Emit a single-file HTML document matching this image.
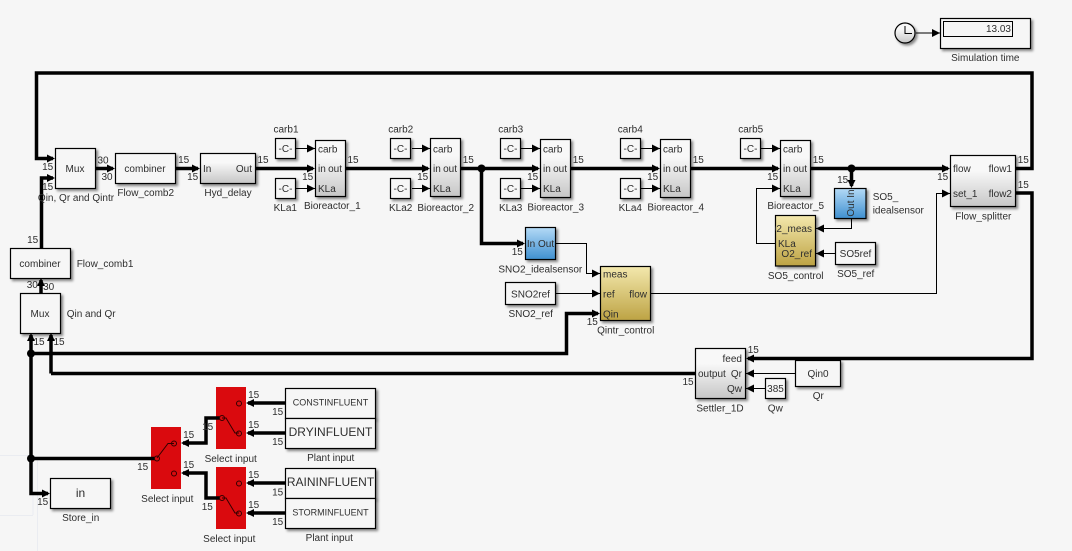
<!DOCTYPE html>
<html><head><meta charset="utf-8"><style>
html,body{margin:0;padding:0;background:#f6f6f6}
svg{display:block}
text{font-family:"Liberation Sans",sans-serif;font-size:10px;fill:#2e2e2e}
.m{text-anchor:middle}
.e{text-anchor:end}
.t{fill:none;stroke:#000;stroke-width:3.5}
.f{fill:none;stroke:#000;stroke-width:1}
.s{fill:#f6f6f6;stroke:#000;stroke-width:1.2;filter:url(#sh)}
</style></head><body>
<svg width="1072" height="551" viewBox="0 0 1072 551" xmlns="http://www.w3.org/2000/svg">
<defs>
<filter id="sh" x="-20%" y="-20%" width="150%" height="150%"><feDropShadow dx="2" dy="2" stdDeviation="1.2" flood-color="#000" flood-opacity=".45"/></filter>
<linearGradient id="gy" x1="0" y1="0" x2="0" y2="1"><stop offset="0.3" stop-color="#f8f8f8"/><stop offset="1" stop-color="#c6c6c6"/></linearGradient>
<linearGradient id="bl" x1="0" y1="0" x2="0" y2="1"><stop offset="0" stop-color="#b4daf6"/><stop offset="1" stop-color="#3f90d0"/></linearGradient>
<linearGradient id="gd" x1="0" y1="0" x2="0" y2="1"><stop offset="0" stop-color="#f3e8ad"/><stop offset="1" stop-color="#bda344"/></linearGradient>
<marker id="at" markerUnits="userSpaceOnUse" markerWidth="10" markerHeight="10" refX="6" refY="4" orient="auto"><path d="M0,0L8,4L0,8z"/></marker>
<marker id="af" markerUnits="userSpaceOnUse" markerWidth="10" markerHeight="10" refX="8" refY="4" orient="auto"><path d="M0,0L8,4L0,8z"/></marker>
<clipPath id="c1"><rect x="775" y="215" width="42" height="30"/></clipPath>
</defs>
<rect width="1072" height="551" fill="#f6f6f6"/>
<path d="M0,455.5H30M33,455.5V515M0,515.5H33M37.5,460V551" fill="none" stroke="#eaecf1" stroke-width="1"/>

<!-- switch bodies -->
<rect x="151" y="427" width="30" height="62" fill="#da0a0e"/>
<rect x="216" y="387" width="30" height="62" fill="#da0a0e"/>
<rect x="216" y="467" width="30" height="62" fill="#da0a0e"/>

<!-- thick wires -->
<g class="t">
<path d="M1016,168.5H1032V73H36.5V158.5H53" marker-end="url(#at)"/>
<path d="M41.5,248V178H53" marker-end="url(#at)"/>
<path d="M41,293V280" marker-end="url(#at)"/>
<path d="M96,168.5H113" marker-end="url(#at)"/>
<path d="M176,168.5H198" marker-end="url(#at)"/>
<path d="M256,168.5H313" marker-end="url(#at)"/>
<path d="M346,168.5H428" marker-end="url(#at)"/>
<path d="M461,168.5H538" marker-end="url(#at)"/>
<path d="M571,168.5H658" marker-end="url(#at)"/>
<path d="M691,168.5H778" marker-end="url(#at)"/>
<path d="M811,168.5H948" marker-end="url(#at)"/>
<path d="M481.5,168.5V243.5H523" marker-end="url(#at)"/>
<path d="M851.5,168.5V186" marker-end="url(#at)"/>
<path d="M1016,193H1032V358.5H748" marker-end="url(#at)"/>
<path d="M31,458V335" marker-end="url(#at)"/>
<path d="M51,373.5V335" marker-end="url(#at)"/>
<path d="M51,373.5H695"/>
<path d="M31,353.5H566.5V313.5H598" marker-end="url(#at)"/>
<path d="M31,458V493.5H48" marker-end="url(#at)"/>
<path d="M31,458.5H155"/>
<path d="M220,418H206V443H183" marker-end="url(#at)"/>
<path d="M220,498H206V473H183" marker-end="url(#at)"/>
<path d="M286,403H248" marker-end="url(#at)"/>
<path d="M286,433H248" marker-end="url(#at)"/>
<path d="M286,483H248" marker-end="url(#at)"/>
<path d="M286,513H248" marker-end="url(#at)"/>
</g>
<circle cx="481.5" cy="168.5" r="4"/><circle cx="851.5" cy="168.5" r="4"/><circle cx="31" cy="353.5" r="4"/><circle cx="31" cy="458.5" r="4"/>

<!-- switch glyphs -->
<g fill="none" stroke="#300" stroke-width="1">
<path d="M157,458L168,443.5H174"/><circle cx="157" cy="458.5" r="2.5"/><circle cx="174" cy="443.5" r="2.5"/><circle cx="174" cy="473.5" r="2.5"/>
<path d="M222,418H226L235,433H239"/><circle cx="222" cy="418" r="2.5"/><circle cx="239" cy="403.5" r="2.5"/><circle cx="239" cy="433.5" r="2.5"/>
<path d="M222,498H226L235,513H239"/><circle cx="222" cy="498" r="2.5"/><circle cx="239" cy="483.5" r="2.5"/><circle cx="239" cy="513.5" r="2.5"/>
</g>

<!-- thin wires -->
<g class="f">
<path d="M916,33H940" marker-end="url(#af)"/>
<path d="M296,148.5H315" marker-end="url(#af)"/><path d="M296,188.5H315" marker-end="url(#af)"/>
<path d="M412,148.5H430" marker-end="url(#af)"/><path d="M412,188.5H430" marker-end="url(#af)"/>
<path d="M521,148.5H540" marker-end="url(#af)"/><path d="M521,188.5H540" marker-end="url(#af)"/>
<path d="M641,148.5H660" marker-end="url(#af)"/><path d="M641,188.5H660" marker-end="url(#af)"/>
<path d="M761,148.5H780" marker-end="url(#af)"/>
<path d="M775,243.5H756.5V188.5H780" marker-end="url(#af)"/>
<path d="M556,243.5H586.5V273.5H600" marker-end="url(#af)"/>
<path d="M556,293.5H600" marker-end="url(#af)"/>
<path d="M651,293.5H936.5V193.5H950" marker-end="url(#af)"/>
<path d="M851.5,219V228.5H816" marker-end="url(#af)"/>
<path d="M835,253.5H816" marker-end="url(#af)"/>
<path d="M796,373.5H746" marker-end="url(#af)"/>
<path d="M765,388.5H746" marker-end="url(#af)"/>
</g>

<!-- blocks -->
<g>
<circle cx="905" cy="33" r="10" fill="url(#gy)" stroke="#000" stroke-width="1.2" style="filter:url(#sh)"/>
<path d="M905,26V33.5H912" class="f"/>
<rect class="s" x="940.5" y="18.5" width="90" height="30"/>
<rect x="943.5" y="21.5" width="69" height="15" fill="none" stroke="#000"/>

<rect class="s" x="55.5" y="148.5" width="40" height="40"/>
<rect class="s" x="115.5" y="153.5" width="60" height="30"/>
<rect class="s" style="fill:url(#gy)" x="200.5" y="153.5" width="55" height="30"/>
<rect class="s" x="10.5" y="248.5" width="60" height="30"/>
<rect class="s" x="20.5" y="293.5" width="40" height="40"/>

<rect class="s" x="275.5" y="138.5" width="20" height="20"/><rect class="s" x="275.5" y="178.5" width="20" height="20"/>
<rect class="s" x="390.5" y="138.5" width="20" height="20"/><rect class="s" x="390.5" y="178.5" width="20" height="20"/>
<rect class="s" x="500.5" y="138.5" width="20" height="20"/><rect class="s" x="500.5" y="178.5" width="20" height="20"/>
<rect class="s" x="620.5" y="138.5" width="20" height="20"/><rect class="s" x="620.5" y="178.5" width="20" height="20"/>
<rect class="s" x="740.5" y="138.5" width="20" height="20"/>

<rect class="s" style="fill:url(#gy)" x="315.5" y="140.5" width="30" height="56"/>
<rect class="s" style="fill:url(#gy)" x="430.5" y="138.5" width="30" height="58"/>
<rect class="s" style="fill:url(#gy)" x="540.5" y="139.5" width="30" height="58"/>
<rect class="s" style="fill:url(#gy)" x="660.5" y="139.5" width="30" height="58"/>
<rect class="s" style="fill:url(#gy)" x="780.5" y="140.5" width="30" height="56"/>
<rect class="s" style="fill:url(#gy)" x="950.5" y="155.5" width="65" height="51"/>
<rect class="s" style="fill:url(#bl)" x="525.5" y="227.5" width="30" height="32"/>
<rect class="s" style="fill:url(#bl)" x="834.5" y="188.5" width="31.5" height="30"/>
<rect class="s" style="fill:url(#gd)" x="600.5" y="266.5" width="50" height="54"/>
<rect class="s" style="fill:url(#gd)" x="775.5" y="215.5" width="40" height="50.5"/>
<rect class="s" x="505.5" y="282.5" width="50" height="22"/>
<rect class="s" x="835.5" y="242.5" width="40" height="22"/>
<rect class="s" style="fill:url(#gy)" x="695.5" y="348.5" width="50" height="50"/>
<rect class="s" x="795.5" y="360.5" width="45" height="26"/>
<rect class="s" x="765.5" y="378.5" width="20" height="20"/>
<rect class="s" x="50.5" y="478.5" width="60" height="30"/>
<rect class="s" x="285.5" y="388.5" width="90" height="30"/>
<rect class="s" x="285.5" y="418.5" width="90" height="30"/>
<rect class="s" x="285.5" y="468.5" width="90" height="30"/>
<rect class="s" x="285.5" y="498.5" width="90" height="30"/>
</g>

<!-- block text -->
<text x="1011" y="32" class="e">13.03</text>
<text x="75" y="172" class="m">Mux</text>
<text x="145" y="172" class="m">combiner</text>
<text x="40" y="267" class="m">combiner</text>
<text x="40" y="317" class="m">Mux</text>
<text x="203" y="172">In</text><text x="252" y="172" class="e">Out</text>
<text x="285.5" y="152" class="m">-C-</text><text x="285.5" y="192" class="m">-C-</text>
<text x="400.5" y="152" class="m">-C-</text><text x="400.5" y="192" class="m">-C-</text>
<text x="510.5" y="152" class="m">-C-</text><text x="510.5" y="192" class="m">-C-</text>
<text x="630.5" y="152" class="m">-C-</text><text x="630.5" y="192" class="m">-C-</text>
<text x="750.5" y="152" class="m">-C-</text>

<text x="318" y="152.5">carb</text><text x="318" y="172">in</text><text x="342" y="172" class="e">out</text><text x="318" y="192">KLa</text>
<text x="433" y="152.5">carb</text><text x="433" y="172">in</text><text x="457" y="172" class="e">out</text><text x="433" y="192">KLa</text>
<text x="543" y="152.5">carb</text><text x="543" y="172">in</text><text x="567" y="172" class="e">out</text><text x="543" y="192">KLa</text>
<text x="663" y="152.5">carb</text><text x="663" y="172">in</text><text x="687" y="172" class="e">out</text><text x="663" y="192">KLa</text>
<text x="783" y="152.5">carb</text><text x="783" y="172">in</text><text x="807" y="172" class="e">out</text><text x="783" y="192">KLa</text>

<text x="540.5" y="247" class="m">In Out</text>
<text transform="translate(854,203) rotate(-90)" class="m">Out In</text>
<text x="603" y="277.5">meas</text><text x="603" y="297.5">ref</text><text x="603" y="317.5">Qin</text><text x="647" y="297.5" class="e">flow</text>
<g clip-path="url(#c1)"><text x="812" y="232" class="e">O2_meas</text></g><text x="778" y="247">KLa</text><text x="812" y="257" class="e">O2_ref</text>
<text x="953" y="172">flow</text><text x="1012" y="172" class="e">flow1</text><text x="953" y="197">set_1</text><text x="1012" y="197" class="e">flow2</text>
<text x="742" y="362" class="e">feed</text><text x="742" y="377" class="e">Qr</text><text x="742" y="392" class="e">Qw</text><text x="698" y="377">output</text>
<text x="818" y="377" class="m">Qin0</text><text x="775.5" y="392" class="m">385</text>
<text x="855.5" y="257" class="m">SO5ref</text><text x="530.5" y="297.5" class="m">SNO2ref</text>
<text x="80.5" y="497" class="m" style="font-size:12px">in</text>
<text x="330.5" y="405.5" class="m" style="font-size:9px">CONSTINFLUENT</text>
<text x="330.5" y="436" class="m" style="font-size:12px">DRYINFLUENT</text>
<text x="330.5" y="486" class="m" style="font-size:12px">RAININFLUENT</text>
<text x="330.5" y="515.5" class="m" style="font-size:9px">STORMINFLUENT</text>

<!-- captions -->
<text x="76" y="201" class="m">Qin, Qr and Qintr</text>
<text x="145.7" y="196" class="m">Flow_comb2</text>
<text x="228" y="196" class="m">Hyd_delay</text>
<text x="332.3" y="209" class="m">Bioreactor_1</text>
<text x="285.3" y="211" class="m">KLa1</text><text x="286" y="132.5" class="m">carb1</text>
<text x="76.7" y="267">Flow_comb1</text>
<text x="66.7" y="317">Qin and Qr</text>
<text x="400.7" y="132.5" class="m">carb2</text><text x="400.7" y="211" class="m">KLa2</text><text x="445.7" y="211" class="m">Bioreactor_2</text>
<text x="510.7" y="132.5" class="m">carb3</text><text x="510.7" y="211" class="m">KLa3</text><text x="555.7" y="210.5" class="m">Bioreactor_3</text>
<text x="630.3" y="132.5" class="m">carb4</text><text x="630.3" y="211" class="m">KLa4</text><text x="675.7" y="210.5" class="m">Bioreactor_4</text>
<text x="750.7" y="132.5" class="m">carb5</text><text x="795.7" y="209" class="m">Bioreactor_5</text>
<text x="540.3" y="272.5" class="m">SNO2_idealsensor</text>
<text x="530.7" y="317" class="m">SNO2_ref</text>
<text x="625.7" y="333.5" class="m">Qintr_control</text>
<text x="795.7" y="279" class="m">SO5_control</text>
<text x="855.7" y="277" class="m">SO5_ref</text>
<text x="872.7" y="200">SO5_</text><text x="872.7" y="213.5">idealsensor</text>
<text x="983.3" y="219.5" class="m">Flow_splitter</text>
<text x="818.3" y="399" class="m">Qr</text><text x="775.3" y="411.5" class="m">Qw</text><text x="720" y="411.5" class="m">Settler_1D</text>
<text x="230.7" y="462" class="m">Select input</text><text x="330.7" y="461" class="m">Plant input</text>
<text x="167.3" y="502" class="m">Select input</text>
<text x="229.3" y="542" class="m">Select input</text><text x="329.3" y="541" class="m">Plant input</text>
<text x="80.7" y="521" class="m">Store_in</text>
<text x="985.3" y="61" class="m">Simulation time</text>

<!-- signal dims -->
<g text-anchor="middle">
<text x="47.7" y="170" text-anchor="middle">15</text><text x="47.7" y="190" text-anchor="middle">15</text>
<text x="103" y="163.5" text-anchor="middle">30</text><text x="107" y="180" text-anchor="middle">30</text>
<text x="183.7" y="163" text-anchor="middle">15</text><text x="192.7" y="180" text-anchor="middle">15</text>
<text x="263" y="163" text-anchor="middle">15</text><text x="307.7" y="180" text-anchor="middle">15</text>
<text x="353" y="163" text-anchor="middle">15</text><text x="32.7" y="243" text-anchor="middle">15</text>
<text x="32.3" y="288" text-anchor="middle">30</text><text x="48.7" y="290" text-anchor="middle">30</text>
<text x="39" y="345" text-anchor="middle">15</text><text x="59" y="345" text-anchor="middle">15</text>
<text x="468.3" y="163" text-anchor="middle">15</text><text x="422.7" y="180" text-anchor="middle">15</text>
<text x="532.7" y="180" text-anchor="middle">15</text><text x="578.3" y="163" text-anchor="middle">15</text>
<text x="652.7" y="180" text-anchor="middle">15</text><text x="698.3" y="163" text-anchor="middle">15</text>
<text x="517.3" y="255" text-anchor="middle">15</text><text x="592.3" y="325" text-anchor="middle">15</text>
<text x="772.7" y="180" text-anchor="middle">15</text><text x="818.3" y="163" text-anchor="middle">15</text>
<text x="842.7" y="183" text-anchor="middle">15</text><text x="942.7" y="180" text-anchor="middle">15</text>
<text x="1023.3" y="163" text-anchor="middle">15</text><text x="1023.3" y="188" text-anchor="middle">15</text>
<text x="753.3" y="353" text-anchor="middle">15</text><text x="688" y="385" text-anchor="middle">15</text>
<text x="253.7" y="398" text-anchor="middle">15</text><text x="277.7" y="415" text-anchor="middle">15</text>
<text x="253.7" y="428" text-anchor="middle">15</text><text x="277.7" y="445" text-anchor="middle">15</text>
<text x="207.7" y="430" text-anchor="middle">15</text><text x="188.7" y="438" text-anchor="middle">15</text>
<text x="142.7" y="470" text-anchor="middle">15</text><text x="188.7" y="468" text-anchor="middle">15</text>
<text x="253.7" y="478" text-anchor="middle">15</text><text x="277.7" y="495.5" text-anchor="middle">15</text>
<text x="207.3" y="510" text-anchor="middle">15</text><text x="253.7" y="508" text-anchor="middle">15</text>
<text x="277.7" y="525" text-anchor="middle">15</text><text x="42.7" y="505" text-anchor="middle">15</text>
</g>
</svg>
</body></html>
